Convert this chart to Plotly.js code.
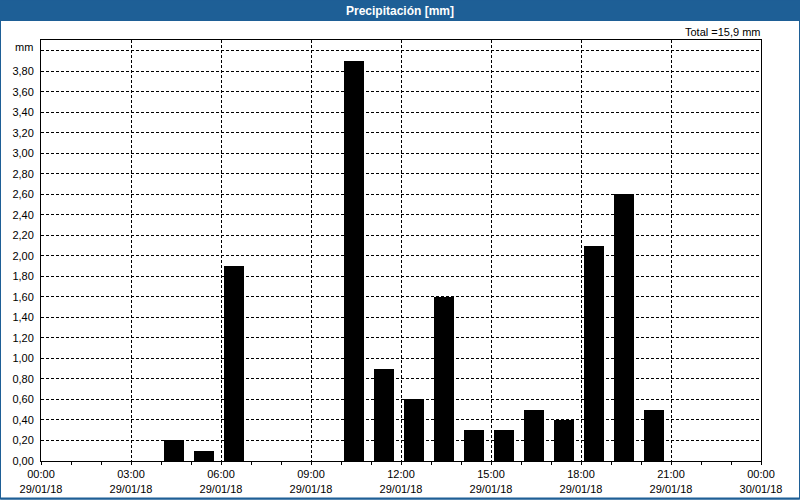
<!DOCTYPE html>
<html>
<head>
<meta charset="utf-8">
<script src="https://cdn.plot.ly/plotly-3.0.1.min.js"></script>
<style>
html,body{margin:0;padding:0;background:#fff;}
#chart{width:800px;height:500px;}
</style>
</head>
<body>
<div id="chart"></div>
<script>
// Data
const hours = ["2018-01-29 04:00","2018-01-29 05:00","2018-01-29 06:00","2018-01-29 10:00","2018-01-29 11:00","2018-01-29 12:00","2018-01-29 13:00","2018-01-29 14:00","2018-01-29 15:00","2018-01-29 16:00","2018-01-29 17:00","2018-01-29 18:00","2018-01-29 19:00","2018-01-29 20:00"];
const precip = [0.2,0.1,1.9,3.9,0.9,0.6,1.6,0.3,0.3,0.5,0.4,2.1,2.6,0.5];
const yTickVals = [0,0.2,0.4,0.6,0.8,1.0,1.2,1.4,1.6,1.8,2.0,2.2,2.4,2.6,2.8,3.0,3.2,3.4,3.6,3.8,4.0];
const yTickText = ["0,00","0,20","0,40","0,60","0,80","1,00","1,20","1,40","1,60","1,80","2,00","2,20","2,40","2,60","2,80","3,00","3,20","3,40","3,60","3,80",""];
const titleText = "Precipitación [mm]";
const unitText = "mm";

const total = precip.reduce((a,b)=>a+b,0);
const totalText = "Total =" + total.toFixed(1).replace(".", ",") + " mm";

const W = 800, H = 500, L = 41, R = 39, T = 40, B = 39;
const pw = W - L - R, ph = H - T - B;
const px = v => (v - L) / pw;          // pixel x -> paper
const py = v => (H - B - v) / ph;      // pixel y -> paper
const HOUR = 3600000;
const blue = "#1e5f96";
const font = "Liberation Sans, Arial, sans-serif";

const trace = {
  type: "bar",
  x: hours,
  y: precip,
  width: 0.69 * HOUR,
  offset: 0.09 * HOUR,
  marker: {color: "#000000", line: {width: 0}},
  hoverinfo: "x+y"
};

const layout = {
  width: W, height: H,
  margin: {l: L, r: R, t: T, b: B, pad: 0},
  paper_bgcolor: "#ffffff",
  plot_bgcolor: "#ffffff",
  showlegend: false,
  bargap: 0,
  font: {family: font, size: 11, color: "#000"},
  title: {
    text: "<b>" + titleText + "</b>",
    font: {family: font, size: 12, color: "#ffffff"},
    x: 0.5, xref: "container", xanchor: "center",
    y: 1 - 10.5 / H, yref: "container", yanchor: "middle"
  },
  xaxis: {
    type: "date",
    range: ["2018-01-29 00:00", "2018-01-30 00:00"],
    tick0: "2018-01-29 00:00",
    dtick: 3 * HOUR,
    tickformat: "%H:%M<br>%d/%m/%y",
    ticks: "outside", ticklen: 3, tickcolor: "#000", tickwidth: 1,
    minor: {dtick: HOUR, ticks: "outside", ticklen: 3, tickcolor: "#000", tickwidth: 1, showgrid: false},
    showgrid: true, gridcolor: "#000", gridwidth: 1, griddash: "3px,2px",
    showline: true, linecolor: "#000", linewidth: 1, mirror: true,
    zeroline: false,
    tickfont: {family: font, size: 11, color: "#000"},
    fixedrange: true
  },
  yaxis: {
    range: [0, 4.104],
    tickmode: "array",
    tickvals: yTickVals,
    ticktext: yTickText,
    ticks: "",
    ticklabelstandoff: 4,
    showgrid: true, gridcolor: "#000", gridwidth: 1, griddash: "3px,2px",
    showline: true, linecolor: "#000", linewidth: 1, mirror: true,
    zeroline: false,
    tickfont: {family: font, size: 11, color: "#000"},
    fixedrange: true
  },
  shapes: [
    // title bar
    {type: "rect", xref: "paper", yref: "paper", layer: "below",
     x0: px(0), x1: px(W), y0: py(21), y1: py(0),
     fillcolor: blue, line: {width: 0}},
    // outer frame
    {type: "rect", xref: "paper", yref: "paper", layer: "below",
     x0: px(0.5), x1: px(W - 0.5), y0: py(H - 1), y1: py(0),
     fillcolor: "rgba(0,0,0,0)", line: {color: blue, width: 1}},
    {type: "line", xref: "paper", yref: "paper", layer: "below",
     x0: px(0), x1: px(W), y0: py(H - 1.5), y1: py(H - 1.5),
     line: {color: blue, width: 2}}
  ],
  annotations: [
    {text: totalText, xref: "paper", yref: "paper",
     x: px(763), y: py(32), xanchor: "right", yanchor: "middle",
     showarrow: false, font: {family: font, size: 11, color: "#000"}},
    {text: unitText, xref: "paper", yref: "paper",
     x: px(35), y: py(46.5), xanchor: "right", yanchor: "middle",
     showarrow: false, font: {family: font, size: 11, color: "#000"}}
  ]
};

Plotly.newPlot("chart", [trace], layout, {displayModeBar: false, staticPlot: true});
</script>
</body>
</html>
